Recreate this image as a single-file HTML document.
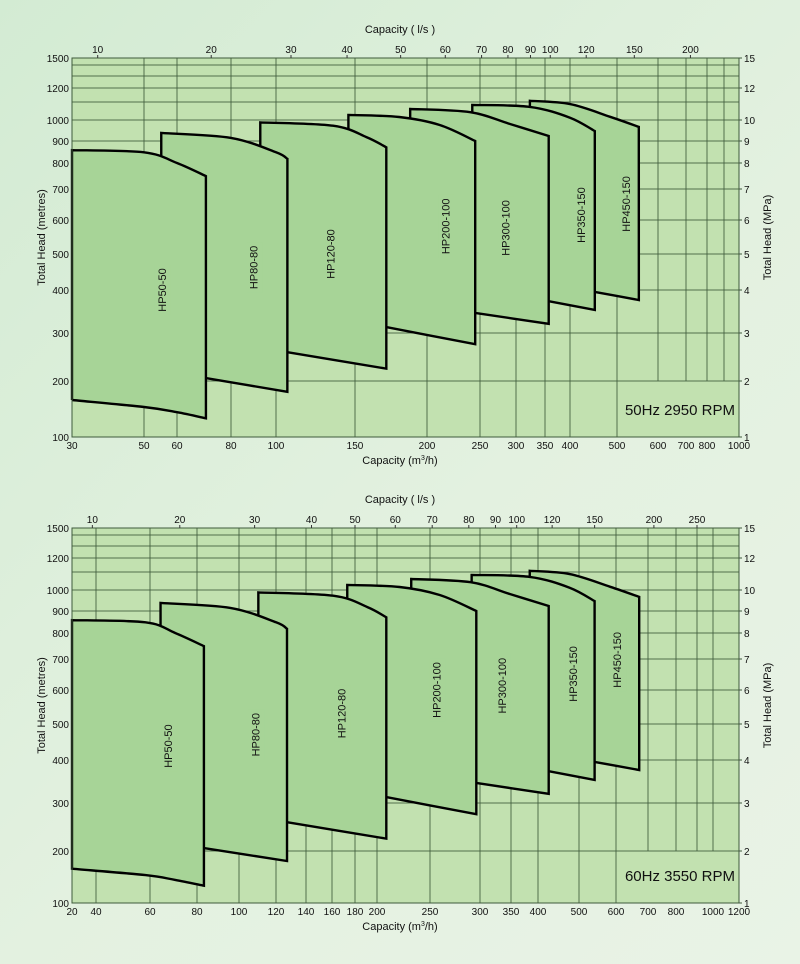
<!DOCTYPE html>
<html><head><meta charset="utf-8">
<style>
html,body{margin:0;padding:0;}
body{width:800px;height:964px;overflow:hidden;background:linear-gradient(135deg,#d3ebd3 0%,#e3f1e0 55%,#e9f3e6 100%);font-family:"Liberation Sans",sans-serif;}
svg{display:block;}
text{font-family:"Liberation Sans",sans-serif;fill:#111;}
</style></head>
<body>
<svg id="chart" width="800" height="964" viewBox="0 0 800 964" xmlns="http://www.w3.org/2000/svg"></svg>
<script>
// ---------- data ----------
const models = ["HP50-50","HP80-80","HP120-80","HP200-100","HP300-100","HP350-150","HP450-150"];
const headTicks = [100,200,300,400,500,600,700,800,900,1000,1100,1200,1300,1400,1500];
const headLabels = [100,200,300,400,500,600,700,800,900,1000,1200,1500];
const mpaLabels = [1,2,3,4,5,6,7,8,9,10,12,15];
const lsTicksA = [10,20,30,40,50,60,70,80,90,100,120,150,200];
const lsTicksB = [10,20,30,40,50,60,70,80,90,100,120,150,200,250];
// 50Hz chart (m3/h, metres)
const capTicksA = [30,50,60,80,100,150,200,250,300,350,400,500,600,700,800,900,1000];
const capLabelsA = [30,50,60,80,100,150,200,250,300,350,400,500,600,700,800,1000];
const topQA = [[30,50,60,70],[55,80,100,106],[92.5,134,157,170],[145,179,211,245],[187,240,291,357],[242,323,400,450],[323,400,484,551]];
const topHA = [[857,847,800,748],[937,914,847,818],[988,972,918,870],[1027,1016,975,900],[1060,1042,980,923],[1083,1072,1012,946],[1108,1088,1017,966]];
const botQA = [[30,50,60,70],[70,106],[106,170],[170,245],[245,357],[357,450],[450,551]];
const botHA = [[158,145,136,126],[205,175],[255,222],[312,273],[343,319],[371,350],[395,374]];
const labelQA = [55.5,90,133,217,286,423,523];
const labelHA = [400,460,500,580,575,615,650];
// 60Hz chart
const capTicksB = [20,40,60,80,100,120,140,160,180,200,250,300,350,400,500,600,700,800,900,1000,1200];
const capLabelsB = [20,40,60,80,100,120,140,160,180,200,250,300,350,400,500,600,700,800,1000,1200];
const topQB = [[20,58,70,83],[64,95.5,120,127],[110,161,191,208],[173,220,259,296],[231,290,348,424],[291,384,475,540],[384,475,583,671]];
const topHB = [[857,847,800,748],[937,914,847,818],[988,972,918,870],[1027,1016,975,900],[1060,1042,980,923],[1083,1072,1012,946],[1108,1088,1017,966]];
const botQB = [[20,58,70,83],[83,127],[127,208],[208,296],[296,424],[424,540],[540,671]];
const botHB = [[158,145,136,126],[205,175],[255,222],[312,273],[343,319],[371,350],[395,374]];
const labelQB = [67.5,109,169,257,336,486,606];
const labelHB = [436,468,529,600,613,650,697];

// ---------- axis calibration (chart layout) ----------
const capPixA = [72,144,177,231,276,355,427,480,516,545,570,617,658,686,707,724,739];
const capPixB = [72,96,150,197,239,276,306,332,355,377,430,480,511,538,579,616,648,676,697,713,739];
const headPixA = [437,381,333,290,254,220,189,163,141,120,102,88,76,65,58];
const headPixB = [903,851,803,760,724,690,659,633,611,590,572,558,546,535,528];

const NS="http://www.w3.org/2000/svg";
const svg=document.getElementById('chart');
function el(tag,attrs,parent){const e=document.createElementNS(NS,tag);for(const k in attrs)e.setAttribute(k,attrs[k]);(parent||svg).appendChild(e);return e;}
function makeScale(vals,pix){return function(v){
  if(v<=vals[0]){const t=Math.log(v/vals[0])/Math.log(vals[1]/vals[0]);return pix[0]+t*(pix[1]-pix[0]);}
  for(let i=0;i<vals.length-1;i++){if(v<=vals[i+1]){const t=Math.log(v/vals[i])/Math.log(vals[i+1]/vals[i]);return pix[i]+t*(pix[i+1]-pix[i]);}}
  const n=vals.length-1;const t=Math.log(v/vals[n-1])/Math.log(vals[n]/vals[n-1]);return pix[n-1]+t*(pix[n]-pix[n-1]);};}
function curve(pts){ // catmull-rom through points
  let d='';
  for(let i=0;i<pts.length-1;i++){
    const p0=pts[Math.max(0,i-1)],p1=pts[i],p2=pts[i+1],p3=pts[Math.min(pts.length-1,i+2)];
    const c1=[p1[0]+(p2[0]-p0[0])/6,p1[1]+(p2[1]-p0[1])/6];
    const c2=[p2[0]-(p3[0]-p1[0])/6,p2[1]-(p3[1]-p1[1])/6];
    d+=` C${c1[0].toFixed(1)},${c1[1].toFixed(1)} ${c2[0].toFixed(1)},${c2[1].toFixed(1)} ${p2[0].toFixed(1)},${p2[1].toFixed(1)}`;
  }
  return d;
}
function drawChart(o){
  const x=makeScale(o.capTicks,o.capPix), y=makeScale(headTicks,o.headPix);
  const L=o.capPix[0],R=o.capPix[o.capPix.length-1],T=o.headPix[o.headPix.length-1],B=o.headPix[0];
  const g=el('g',{});
  
  
  const bg=el('rect',{x:L,y:T,width:R-L,height:B-T,fill:'#c2e1b0'},g);
  
  
  const grid=el('g',{stroke:'#3f5a3c','stroke-width':1,'stroke-opacity':0.85},g);
  
  
  headTicks.forEach(h=>{el('line',{x1:L,x2:R,y1:y(h),y2:y(h)},grid);});
  o.capTicks.forEach(q=>{if(q===o.capTicks[0]||q===o.capTicks[o.capTicks.length-1])return;
    const y2=q>=o.shortFrom?y(200):B; el('line',{x1:x(q),x2:x(q),y1:T,y2:y2},grid);});
  // shapes, drawn back to front
  const sh=el('g',{},g);
  
  
  for(let i=models.length-1;i>=0;i--){
    const tp=o.topQ[i].map((q,j)=>[x(q),y(o.topH[i][j])]);
    const bp=o.botQ[i].map((q,j)=>[x(q),y(o.botH[i][j])]).reverse();
    let d=`M${tp[0][0]},${tp[0][1]}`+curve(tp)+` L${bp[0][0]},${bp[0][1]}`+curve(bp)+` L${tp[0][0]},${bp[bp.length-1][1]} Z`;
    const p=el('path',{d:d,fill:'#a7d497',stroke:'#000','stroke-width':2.4,'stroke-linejoin':'miter'},sh);
    
    
  }
  // model labels
  models.forEach((m,i)=>{
    const cx=x(o.labelQ[i]),cy=y(o.labelH[i]);const len=m.length*6.1+8;
    el('rect',{x:cx-8,y:cy-len/2,width:16,height:len,fill:'#a7d497'},g);
    const t=el('text',{x:cx,y:cy,'font-size':11,'text-anchor':'middle','dominant-baseline':'central',transform:`rotate(-90 ${cx} ${cy})`},g);
    t.textContent=m;
    
    
  });
  el('rect',{x:L,y:T,width:R-L,height:B-T,fill:'none',stroke:'#3f5a3c','stroke-width':1},g);
  // left / right axis labels
  headLabels.forEach((h,i)=>{
    const t=el('text',{x:L-3,y:y(h)+4,'font-size':10,'text-anchor':'end'},g);t.textContent=h;
    
    
    const r=el('text',{x:R+5,y:y(h)+4,'font-size':10},g);r.textContent=mpaLabels[i];
    
    
    el('line',{x1:R,x2:R+3,y1:y(h),y2:y(h),stroke:'#3f5a3c'},g);
  });
  // bottom capacity labels
  o.capLabels.forEach(q=>{const t=el('text',{x:x(q),y:B+12,'font-size':10,'text-anchor':'middle'},g);t.textContent=q;
    
    });
  // top l/s labels
  o.lsTicks.forEach(v=>{const px=x(v*3.6);
    el('line',{x1:px,x2:px,y1:T-3,y2:T,stroke:'#333'},g);
    const t=el('text',{x:px,y:T-5,'font-size':10,'text-anchor':'middle'},g);t.textContent=v;
    
    });
  const tt=el('text',{x:400,y:T-25,'font-size':11,'text-anchor':'middle','xml:space':'preserve'},g);tt.textContent='Capacity    ( l/s )';
  
  
  const bt=el('text',{x:400,y:B+27,'font-size':11,'text-anchor':'middle'},g);
  bt.innerHTML='Capacity   (m<tspan font-size="7" dy="-4">3</tspan><tspan dy="4">/h)</tspan>';
  
  
  const my=(T+B)/2-10;
  const lt=el('text',{x:45,y:my,'font-size':11,'text-anchor':'middle',transform:`rotate(-90 45 ${my})`},g);lt.textContent='Total  Head  (metres)';
  
  
  const rt=el('text',{x:771,y:my,'font-size':11,'text-anchor':'middle',transform:`rotate(-90 771 ${my})`},g);rt.textContent='Total  Head  (MPa)';
  
  
  const ft=el('text',{x:R-4,y:B-22,'font-size':15,'text-anchor':'end','xml:space':'preserve'},g);ft.textContent=o.freq;
  
  
}
drawChart({name:'chart-50hz',capTicks:capTicksA,capPix:capPixA,headPix:headPixA,capLabels:capLabelsA,lsTicks:lsTicksA,shortFrom:600,
  topQ:topQA,topH:topHA,botQ:botQA,botH:botHA,labelQ:labelQA,labelH:labelHA,freq:'50Hz   2950 RPM'});
drawChart({name:'chart-60hz',capTicks:capTicksB,capPix:capPixB,headPix:headPixB,capLabels:capLabelsB,lsTicks:lsTicksB,shortFrom:700,
  topQ:topQB,topH:topHB,botQ:botQB,botH:botHB,labelQ:labelQB,labelH:labelHB,freq:'60Hz   3550 RPM'});
</script>
</body></html>
